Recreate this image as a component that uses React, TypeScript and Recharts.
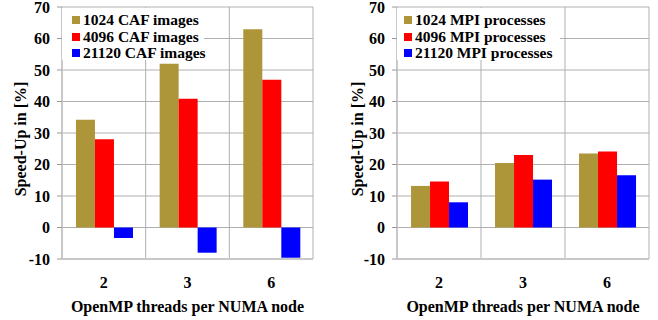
import React from 'react';
import { BarChart, Bar, XAxis, YAxis, CartesianGrid, Legend } from 'recharts';

const categories = ['2', '3', '6'];
const caf1024 = [34.2, 52.0, 62.9];
const caf4096 = [28.0, 40.9, 46.9];
const caf21120 = [-3.3, -8.0, -9.6];
const mpi1024 = [13.2, 20.5, 23.5];
const mpi4096 = [14.6, 23.0, 24.1];
const mpi21120 = [8.0, 15.2, 16.6];
const cafNames = ['1024 CAF images', '4096 CAF images', '21120 CAF images'];
const mpiNames = ['1024 MPI processes', '4096 MPI processes', '21120 MPI processes'];
const yTicks = [-10, 0, 10, 20, 30, 40, 50, 60, 70];
const xTitle = 'OpenMP threads per NUMA node';
const yTitle = 'Speed-Up in [%]';
const colors = ['#AD9539', '#FF0000', '#0000FF'];

const FONT = '"Liberation Serif", "Times New Roman", serif';

type PanelProps = {
  left: number;
  width: number;
  yAxisWidth: number;
  marginRight: number;
  series: number[][];
  names: string[];
  yTitleX: number;
  legendW: number;
  markerX: number;
  textX: number;
};

function Panel(p: PanelProps) {
  const data = categories.map((c, i) => ({
    cat: c,
    s0: p.series[0][i],
    s1: p.series[1][i],
    s2: p.series[2][i],
  }));
  const legendContent = () => (
    <div style={{ position: 'relative', width: p.legendW, height: 52, background: '#fff' }}>
      {p.names.map((n, i) => {
        const cy = 12 + i * 16.5;
        return (
          <React.Fragment key={n}>
            <div
              style={{
                position: 'absolute',
                left: p.markerX,
                top: cy - 4,
                width: 8,
                height: 8,
                background: colors[i],
              }}
            />
            <div
              style={{
                position: 'absolute',
                left: p.textX,
                top: cy - 9,
                height: 18,
                lineHeight: '18px',
                fontFamily: FONT,
                fontWeight: 'bold',
                fontSize: 15.5,
                color: '#000',
                whiteSpace: 'nowrap',
              }}
            >
              {n}
            </div>
          </React.Fragment>
        );
      })}
    </div>
  );
  return (
    <div style={{ position: 'absolute', left: p.left, top: 0 }}>
      <BarChart
        width={p.width}
        height={320}
        data={data}
        margin={{ top: 7, right: p.marginRight, bottom: 0, left: 0 }}
        barCategoryGap="16.7%"
        barGap={0}
      >
        <CartesianGrid
          stroke="#b0b0b0"
          strokeWidth={1}
          verticalCoordinatesGenerator={(props: any) => {
            const off = props.offset;
            return categories.map((_, i) => off.left + ((i + 1) * off.width) / categories.length);
          }}
        />
        <XAxis
          dataKey="cat"
          height={61}
          axisLine={{ stroke: '#c8c8c8', strokeWidth: 2 }}
          tickLine={false}
          tickSize={0}
          tickMargin={18}
          tick={{ fill: '#000', fontFamily: FONT, fontWeight: 'bold', fontSize: 16 }}
          label={{
            content: (lp: any) => {
              const vb = lp.viewBox;
              return (
                <text
                  x={vb.x + vb.width / 2}
                  y={vb.y + 47}
                  textAnchor="middle"
                  dominantBaseline="central"
                  fill="#000"
                  fontFamily={FONT}
                  fontWeight="bold"
                  fontSize={16}
                >
                  {xTitle}
                </text>
              );
            },
          }}
        />
        <YAxis
          width={p.yAxisWidth}
          domain={[-10, 70]}
          ticks={yTicks}
          interval={0}
          axisLine={{ stroke: '#c8c8c8', strokeWidth: 2 }}
          tickLine={{ stroke: '#999' }}
          tickSize={5}
          tickMargin={7}
          tick={{ fill: '#000', fontFamily: FONT, fontWeight: 'bold', fontSize: 16 }}
          label={{
            content: (lp: any) => {
              const vb = lp.viewBox;
              const cx = vb.x + p.yTitleX;
              const cy = vb.y + vb.height / 2 + 6;
              return (
                <text
                  x={cx}
                  y={cy}
                  transform={`rotate(-90, ${cx}, ${cy})`}
                  textAnchor="middle"
                  dominantBaseline="central"
                  fill="#000"
                  fontFamily={FONT}
                  fontWeight="bold"
                  fontSize={16}
                >
                  {yTitle}
                </text>
              );
            },
          }}
        />
        <Legend
          layout="vertical"
          align="center"
          verticalAlign="middle"
          content={legendContent}
          wrapperStyle={{ left: p.yAxisWidth, top: 8, width: p.legendW, height: 52 }}
        />
        <Bar dataKey="s0" name={p.names[0]} fill={colors[0]} isAnimationActive={false} />
        <Bar dataKey="s1" name={p.names[1]} fill={colors[1]} isAnimationActive={false} />
        <Bar dataKey="s2" name={p.names[2]} fill={colors[2]} isAnimationActive={false} />
      </BarChart>
    </div>
  );
}

export default function App() {
  return (
    <div style={{ position: 'absolute', left: 0, top: 0, width: 658, height: 320, background: '#fff' }}>
      <Panel
        left={0}
        width={329}
        yAxisWidth={62}
        marginRight={16}
        series={[caf1024, caf4096, caf21120]}
        names={cafNames}
        yTitleX={20}
        legendW={142}
        markerX={10}
        textX={21}
      />
      <Panel
        left={330}
        width={328}
        yAxisWidth={67}
        marginRight={9}
        series={[mpi1024, mpi4096, mpi21120]}
        names={mpiNames}
        yTitleX={27}
        legendW={163}
        markerX={7}
        textX={18}
      />
    </div>
  );
}
